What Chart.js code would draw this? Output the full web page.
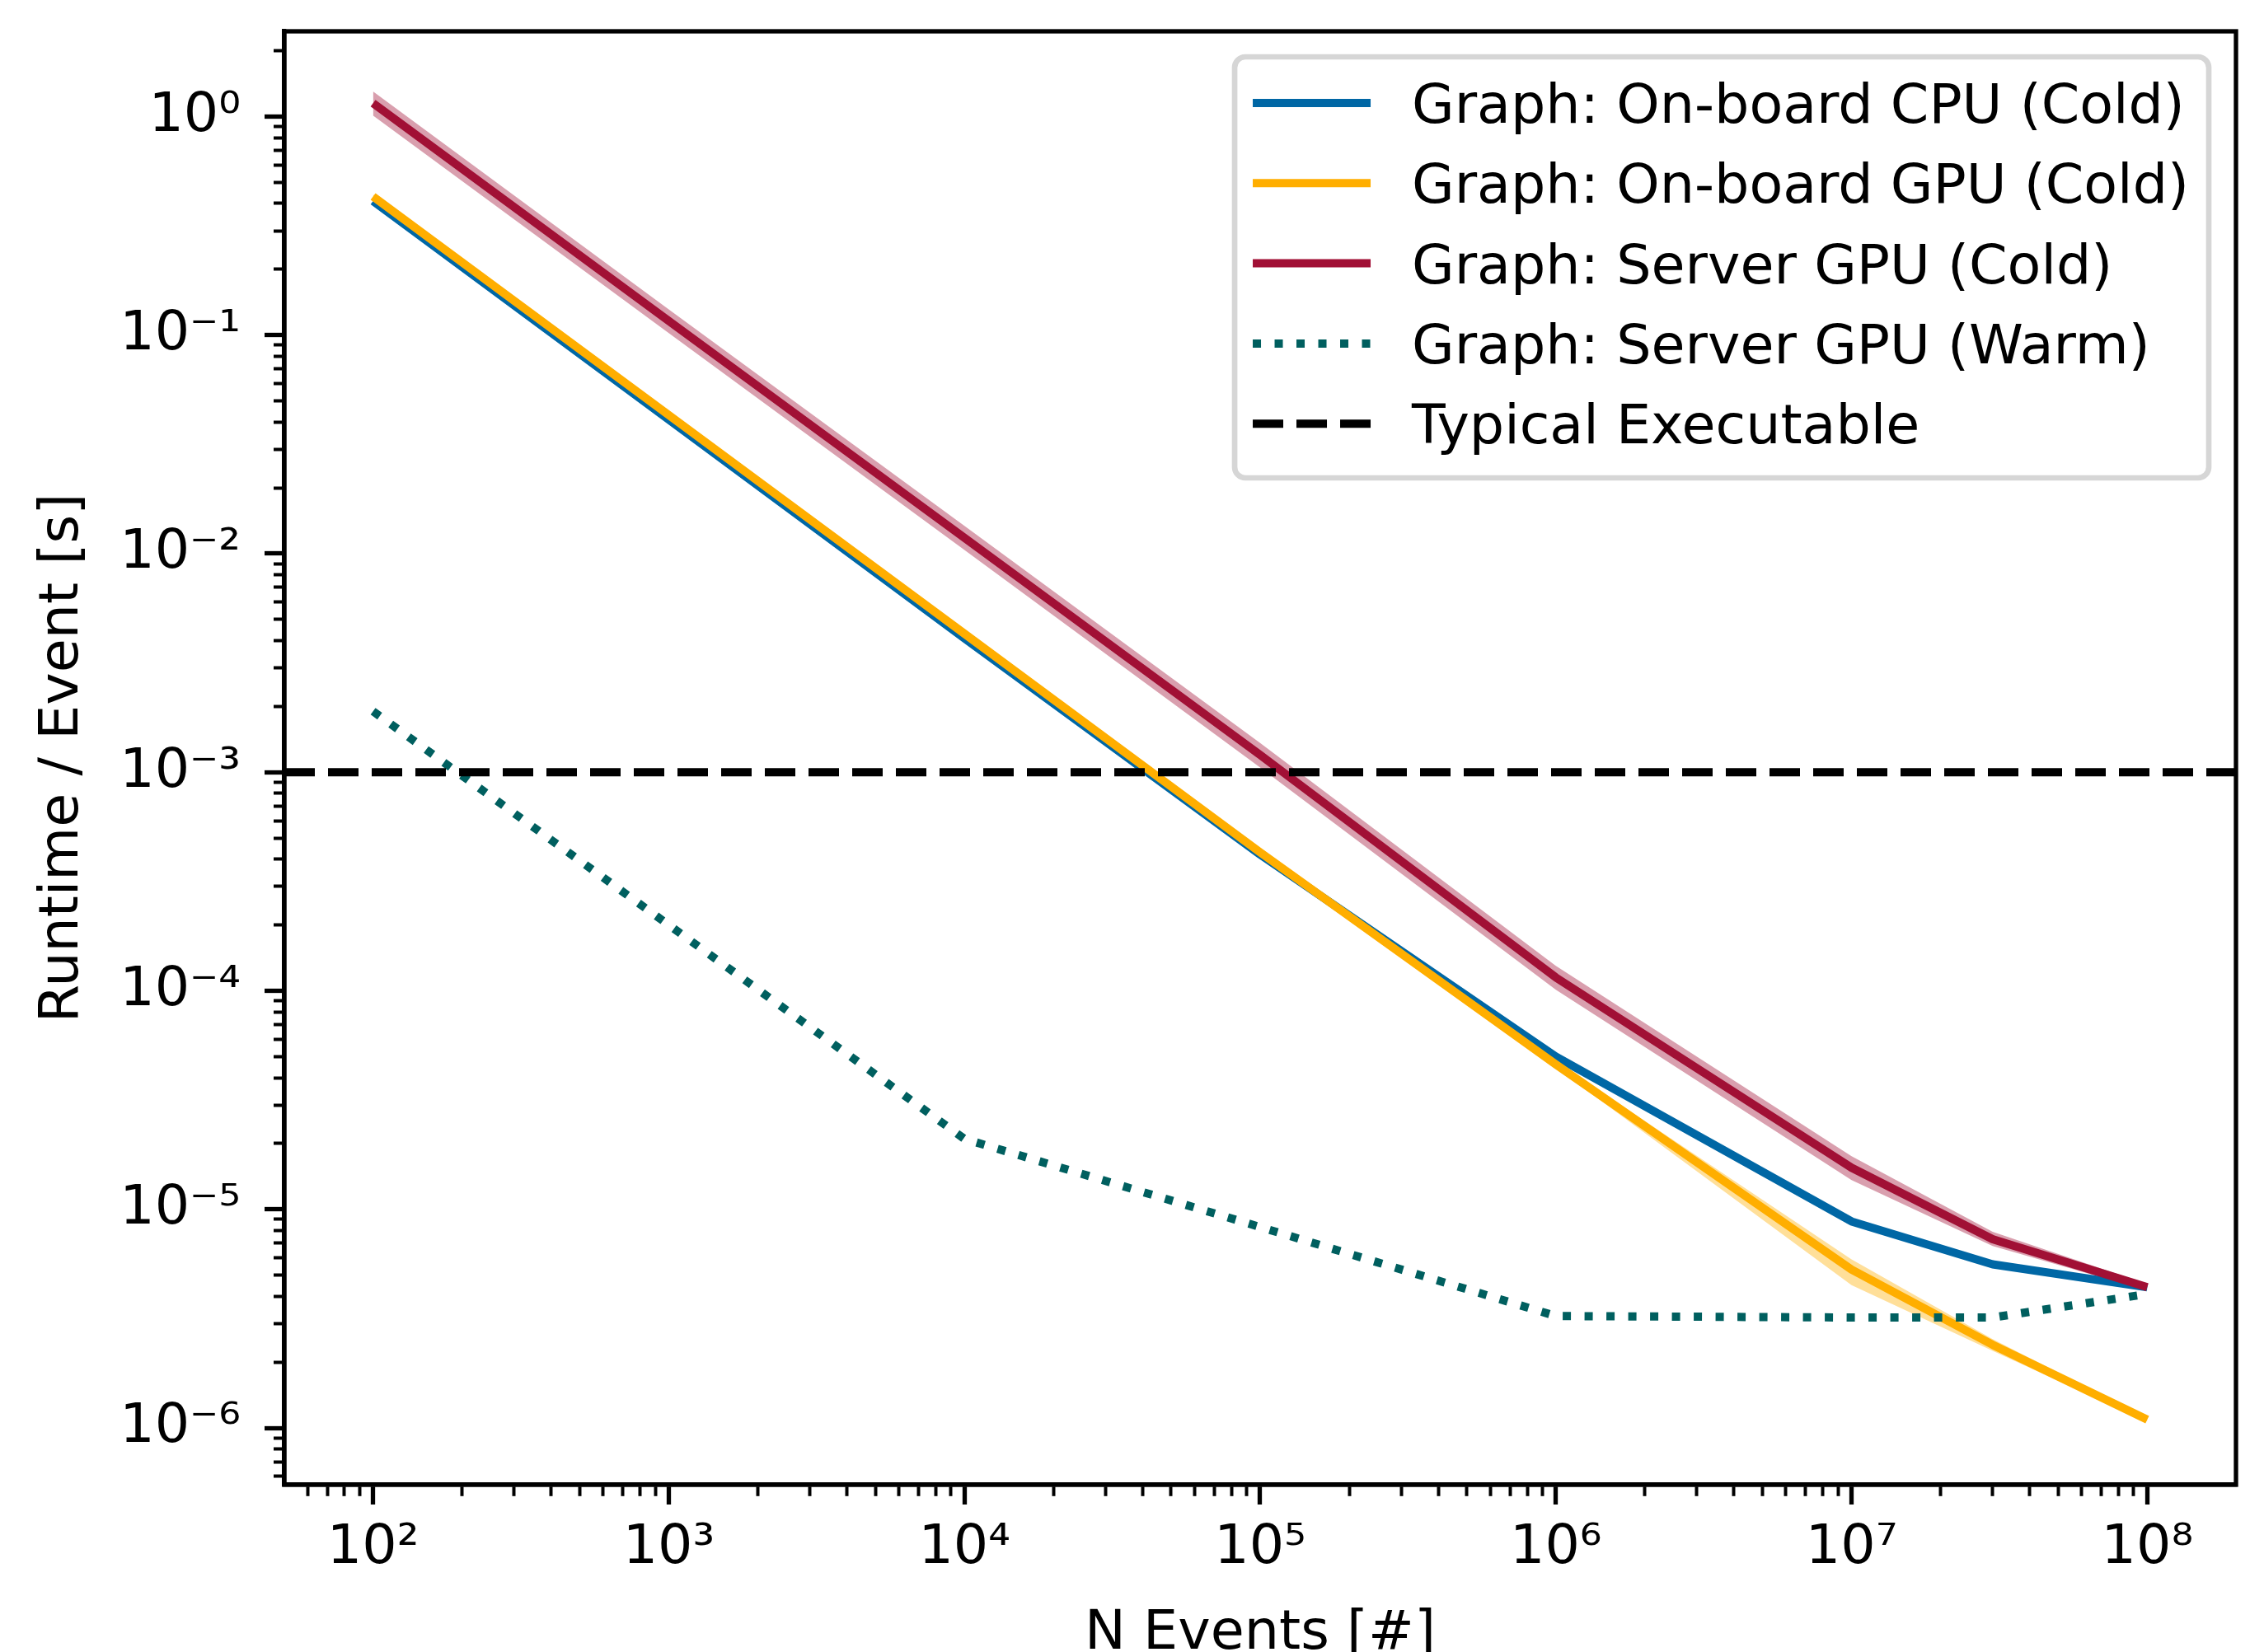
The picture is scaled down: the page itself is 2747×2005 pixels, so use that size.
<!DOCTYPE html>
<html>
<head>
<meta charset="utf-8">
<script src="https://cdn.jsdelivr.net/npm/chart.js@4.4.1/dist/chart.umd.min.js"></script>
<style>
  html, body { margin: 0; padding: 0; background: #fff; }
  canvas { display: block; }
</style>
</head>
<body>
<canvas id="runtimeChart" width="2747" height="2005" style="width:2747px;height:2005px"></canvas>
<script>
// N events per run (x) and runtime per event in seconds (y)
const nEvents = [1e2, 1e3, 1e4, 1e5, 1e6, 1e7, 3e7, 1e8];

const cpuCold     = [0.41, 0.041, 4.1e-3, 4.2e-4, 5.0e-5, 8.8e-6, 5.6e-6, 4.4e-6];
const cpuColdHi   = [0.425, 0.0425, 4.25e-3, 4.35e-4, 5.15e-5, 9.1e-6, 5.75e-6, 4.5e-6];
const cpuColdLo   = [0.395, 0.0395, 3.95e-3, 4.05e-4, 4.85e-5, 8.5e-6, 5.45e-6, 4.3e-6];

const gpuCold     = [0.43, 0.043, 4.3e-3, 4.3e-4, 4.6e-5, 5.3e-6, 2.4e-6, 1.09e-6];
const gpuColdHi   = [0.44, 0.044, 4.4e-3, 4.4e-4, 4.75e-5, 5.9e-6, 2.55e-6, 1.11e-6];
const gpuColdLo   = [0.42, 0.042, 4.2e-3, 4.2e-4, 4.45e-5, 4.5e-6, 2.25e-6, 1.07e-6];

const serverCold   = [1.15, 0.116, 0.0118, 1.2e-3, 1.15e-4, 1.55e-5, 7.3e-6, 4.4e-6];
const serverColdHi = [1.30, 0.131, 0.0134, 1.36e-3, 1.30e-4, 1.75e-5, 7.9e-6, 4.55e-6];
const serverColdLo = [1.01, 0.102, 0.0104, 1.05e-3, 1.01e-4, 1.36e-5, 6.8e-6, 4.25e-6];

const serverWarm  = [1.9e-3, 2.0e-4, 2.1e-5, 8.3e-6, 3.25e-6, 3.2e-6, 3.2e-6, 4.1e-6];

const typicalExecutable = 1e-3;

const seriesLabels = [
  'Graph: On-board CPU (Cold)',
  'Graph: On-board GPU (Cold)',
  'Graph: Server GPU (Cold)',
  'Graph: Server GPU (Warm)',
  'Typical Executable'
];

const xMin = Math.pow(10, 1.7), xMax = Math.pow(10, 8.3);
const yMin = Math.pow(10, -6.26), yMax = Math.pow(10, 0.3895);

const FONT = 'DejaVu Sans';
const FS = 66.7;
const blue = '#0067a5', orange = '#ffae00', red = '#a11035', teal = '#005f5f';

const pts = ys => nEvents.map((x, i) => ({ x: x, y: ys[i] }));

function isMajor(v) {
  const l = Math.log10(v);
  return Math.abs(l - Math.round(l)) < 1e-6;
}

const SUP = { '0': '⁰', '1': '¹', '2': '²', '3': '³', '4': '⁴', '5': '⁵', '6': '⁶', '7': '⁷', '8': '⁸', '9': '⁹', '-': '⁻' };
function powLabel(v) {
  const e = String(Math.round(Math.log10(v)));
  return '10' + e.split('').map(c => SUP[c]).join('');
}

function logTicks(min, max) {
  const out = [];
  for (let e = Math.floor(Math.log10(min)); e <= Math.ceil(Math.log10(max)); e++) {
    for (let m = 1; m <= 9; m++) {
      const v = m * Math.pow(10, e);
      if (v >= min && v <= max) out.push({ value: v });
    }
  }
  return out;
}

function band(hi, lo, color) {
  return [
    { data: pts(hi), borderWidth: 0, borderColor: 'rgba(0,0,0,0)', pointRadius: 0, fill: false, order: 10 },
    { data: pts(lo), borderWidth: 0, borderColor: 'rgba(0,0,0,0)', pointRadius: 0, backgroundColor: color, fill: '-1', order: 10 }
  ];
}

function line(label, ys, color, order) {
  return {
    label: label, data: pts(ys), borderColor: color, borderWidth: 10,
    borderJoinStyle: 'round', borderCapStyle: 'butt', pointRadius: 0, fill: false, order: order
  };
}

const datasets = [
  line(seriesLabels[0], cpuCold, blue, 5),
  line(seriesLabels[1], gpuCold, orange, 4),
  line(seriesLabels[2], serverCold, red, 3),
  Object.assign(line(seriesLabels[3], serverWarm, teal, 2), { borderDash: [10, 16.5] }),
  {
    label: seriesLabels[4],
    data: [{ x: xMin, y: typicalExecutable }, { x: xMax, y: typicalExecutable }],
    borderColor: '#000', borderWidth: 10, borderDash: [37, 16], borderCapStyle: 'butt',
    pointRadius: 0, fill: false, order: 1
  },
  ...band(cpuColdHi, cpuColdLo, 'rgba(0,103,165,0.35)'),
  ...band(gpuColdHi, gpuColdLo, 'rgba(255,174,0,0.4)'),
  ...band(serverColdHi, serverColdLo, 'rgba(161,16,53,0.4)')
];

// matplotlib-style box around the axes
const frame = {
  id: 'frame',
  afterDatasetsDraw(chart) {
    const { ctx, chartArea: a } = chart;
    ctx.save();
    ctx.strokeStyle = '#000';
    ctx.lineWidth = 5.3;
    ctx.strokeRect(a.left, a.top, a.right - a.left, a.bottom - a.top);
    ctx.restore();
  }
};

// legend drawn inside the axes, upper right
const insetLegend = {
  id: 'insetLegend',
  afterDraw(chart) {
    const { ctx, chartArea: a } = chart;
    const items = chart.data.datasets.filter(d => d.label);
    ctx.save();
    ctx.font = FS + 'px "' + FONT + '"';
    const maxW = Math.max(...items.map(d => ctx.measureText(d.label).width));
    const w = 22 + 143 + 50 + maxW + 24, h = 511;
    const right = a.right - 33, top = a.top + 31, left = right - w;
    ctx.beginPath();
    ctx.roundRect(left, top, w, h, 13);
    ctx.fillStyle = 'rgba(255,255,255,0.8)';
    ctx.fill();
    ctx.lineWidth = 6.7;
    ctx.strokeStyle = '#d6d6d6';
    ctx.stroke();
    items.forEach((d, i) => {
      const y = top + 56 + i * 97.3;
      ctx.beginPath();
      ctx.setLineDash(d.borderDash || []);
      ctx.lineDashOffset = 0;
      ctx.lineWidth = d.borderWidth;
      ctx.strokeStyle = d.borderColor;
      ctx.lineCap = 'butt';
      ctx.moveTo(left + 22, y);
      ctx.lineTo(left + 165, y);
      ctx.stroke();
      ctx.setLineDash([]);
      ctx.fillStyle = '#000';
      ctx.textBaseline = 'alphabetic';
      ctx.textAlign = 'left';
      ctx.fillText(d.label, left + 215, y + 24);
    });
    ctx.restore();
  }
};

const minor = c => c.tick && !isMajor(c.tick.value);

new Chart(document.getElementById('runtimeChart').getContext('2d'), {
  type: 'line',
  data: { datasets: datasets },
  options: {
    responsive: false,
    animation: false,
    devicePixelRatio: 1,
    layout: { padding: { top: 38, right: 34, bottom: 0, left: 0 } },
    plugins: { legend: { display: false }, tooltip: { enabled: false } },
    elements: { line: { tension: 0 }, point: { radius: 0 } },
    scales: {
      x: {
        type: 'logarithmic', min: xMin, max: xMax,
        afterBuildTicks: s => { s.ticks = logTicks(xMin, xMax); },
        afterFit: s => { s.height = 203; s.paddingLeft = 0; s.paddingRight = 0; },
        border: { display: true, color: '#000', width: 5.3 },
        grid: {
          drawOnChartArea: false, drawTicks: true, tickLength: 24, tickColor: '#000',
          tickWidth: c => minor(c) ? 4 : 5.3,
          tickBorderDash: c => minor(c) ? [11.5, 200] : []
        },
        ticks: {
          autoSkip: false, maxRotation: 0, minRotation: 0, padding: 14, color: '#000',
          font: { family: FONT, size: FS },
          callback: v => isMajor(v) ? powLabel(v) : ''
        },
        title: {
          display: true, text: 'N Events [#]', color: '#000',
          font: { family: FONT, size: FS, lineHeight: 0.6 },
          padding: { top: 0, bottom: 1 }
        }
      },
      y: {
        type: 'logarithmic', min: yMin, max: yMax,
        afterBuildTicks: s => { s.ticks = logTicks(yMin, yMax); },
        afterFit: s => { s.width = 345; s.paddingTop = 0; s.paddingBottom = 0; },
        border: { display: true, color: '#000', width: 5.3 },
        grid: {
          drawOnChartArea: false, drawTicks: true, tickLength: 24, tickColor: '#000',
          tickWidth: c => minor(c) ? 4 : 5.3,
          tickBorderDash: c => minor(c) ? [12, 200] : [],
          tickBorderDashOffset: c => minor(c) ? 201 : 0
        },
        ticks: {
          autoSkip: false, padding: 29, color: '#000',
          font: { family: FONT, size: FS },
          callback: v => isMajor(v) ? powLabel(v) : ''
        },
        title: {
          display: true, text: 'Runtime / Event [s]', color: '#000',
          font: { family: FONT, size: FS, lineHeight: 1.2 },
          padding: { top: 37, bottom: 0 }
        }
      }
    }
  },
  plugins: [frame, insetLegend]
});
</script>
</body>
</html>
